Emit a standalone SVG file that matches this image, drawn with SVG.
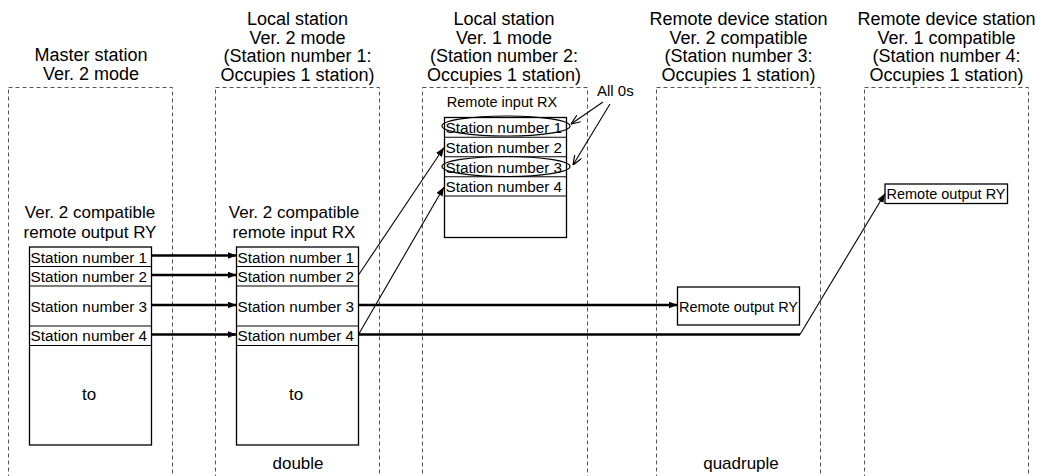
<svg xmlns="http://www.w3.org/2000/svg" width="1042" height="476" viewBox="0 0 1042 476">
<defs>
<style>
text{font-family:"Liberation Sans",Arial,sans-serif;fill:#000}
.h{font-size:18px;text-anchor:middle}
.m{font-size:17px;text-anchor:middle}
.s{font-size:15.3px}
.r{font-size:14.5px}
.col{fill:none;stroke:#555;stroke-width:1;stroke-dasharray:4 3}
.tb{fill:#fff;stroke:#000;stroke-width:1.3}
.rl{stroke:#000;stroke-width:1.1}
.thick{stroke:#000;stroke-width:2.4;fill:none}
.thin{stroke:#000;stroke-width:1.1;fill:none}
.ell{fill:none;stroke:#000;stroke-width:1.2}
</style>
<marker id="ah" viewBox="0 0 9 7" refX="9" refY="3.5" markerWidth="9" markerHeight="7" markerUnits="userSpaceOnUse" orient="auto"><path d="M0,0 L9,3.5 L0,7 z" fill="#000"/></marker>
<marker id="ao" viewBox="0 0 10 8" refX="10" refY="4" markerWidth="10" markerHeight="8" markerUnits="userSpaceOnUse" orient="auto"><path d="M0,0 L10,4 L0,8" fill="none" stroke="#000" stroke-width="1.2"/></marker>
</defs>
<rect width="1042" height="476" fill="#fff"/>

<g id="col-master">
<rect class="col" x="8.5" y="87.5" width="164" height="420"/>
<text class="h" x="91" y="61">Master station</text>
<text class="h" x="91" y="80">Ver. 2 mode</text>
<text class="m" x="90" y="218">Ver. 2 compatible</text>
<text class="m" x="90" y="238">remote output RY</text>
<rect class="tb" x="29.5" y="247" width="122" height="198"/>
<line class="rl" x1="29.5" y1="266.5" x2="151.5" y2="266.5"/>
<line class="rl" x1="29.5" y1="286" x2="151.5" y2="286"/>
<line class="rl" x1="29.5" y1="326" x2="151.5" y2="326"/>
<line class="rl" x1="29.5" y1="345.5" x2="151.5" y2="345.5"/>
<text class="s" x="30.5" y="262.5">Station number 1</text>
<text class="s" x="30.5" y="281.5">Station number 2</text>
<text class="s" x="30.5" y="311.5">Station number 3</text>
<text class="s" x="30.5" y="341">Station number 4</text>
<text class="h" x="89" y="400" style="font-size:17px">to</text>
</g>

<g id="col-local2">
<rect class="col" x="215.5" y="87.5" width="164" height="420"/>
<text class="h" x="297.5" y="25">Local station</text>
<text class="h" x="297.5" y="43.5">Ver. 2 mode</text>
<text class="h" x="297.5" y="62">(Station number 1:</text>
<text class="h" x="297.5" y="80.5">Occupies 1 station)</text>
<text class="m" x="294" y="218">Ver. 2 compatible</text>
<text class="m" x="294" y="238">remote input RX</text>
<rect class="tb" x="236.5" y="247" width="122" height="198"/>
<line class="rl" x1="236.5" y1="266.5" x2="358.5" y2="266.5"/>
<line class="rl" x1="236.5" y1="286" x2="358.5" y2="286"/>
<line class="rl" x1="236.5" y1="326" x2="358.5" y2="326"/>
<line class="rl" x1="236.5" y1="345.5" x2="358.5" y2="345.5"/>
<text class="s" x="237.5" y="262.5">Station number 1</text>
<text class="s" x="237.5" y="281.5">Station number 2</text>
<text class="s" x="237.5" y="311.5">Station number 3</text>
<text class="s" x="237.5" y="341">Station number 4</text>
<text class="h" x="296" y="400" style="font-size:17px">to</text>
<text class="h" x="298" y="469" style="font-size:17px">double</text>
</g>

<g id="col-local1">
<rect class="col" x="422.5" y="87.5" width="165" height="420"/>
<text class="h" x="504" y="25">Local station</text>
<text class="h" x="504" y="43.5">Ver. 1 mode</text>
<text class="h" x="504" y="62">(Station number 2:</text>
<text class="h" x="504" y="80.5">Occupies 1 station)</text>
<text class="r" x="502" y="107" text-anchor="middle">Remote input RX</text>
<rect class="tb" x="444.5" y="117.5" width="122" height="120"/>
<line class="rl" x1="444.5" y1="137.3" x2="566.5" y2="137.3"/>
<line class="rl" x1="444.5" y1="156.7" x2="566.5" y2="156.7"/>
<line class="rl" x1="444.5" y1="176.7" x2="566.5" y2="176.7"/>
<line class="rl" x1="444.5" y1="196" x2="566.5" y2="196"/>
<text class="s" x="445.5" y="133">Station number 1</text>
<text class="s" x="445.5" y="152.5">Station number 2</text>
<text class="s" x="445.5" y="172.5">Station number 3</text>
<text class="s" x="445.5" y="191.5">Station number 4</text>
<ellipse class="ell" cx="506" cy="126" rx="64" ry="10"/>
<ellipse class="ell" cx="506" cy="166.5" rx="64" ry="10"/>
<text x="597" y="96" style="font-size:15px">All 0s</text>
</g>

<g id="col-remote2">
<rect class="col" x="656.5" y="87.5" width="164" height="420"/>
<text class="h" x="738.5" y="25">Remote device station</text>
<text class="h" x="738.5" y="43.5">Ver. 2 compatible</text>
<text class="h" x="738.5" y="62">(Station number 3:</text>
<text class="h" x="738.5" y="80.5">Occupies 1 station)</text>
<rect class="tb" x="677.5" y="287" width="122" height="38"/>
<text class="r" x="679" y="311.5">Remote output RY</text>
<text class="h" x="741" y="469" style="font-size:17px">quadruple</text>
</g>

<g id="col-remote1">
<rect class="col" x="864.5" y="87.5" width="164" height="420"/>
<text class="h" x="946.5" y="25">Remote device station</text>
<text class="h" x="946.5" y="43.5">Ver. 1 compatible</text>
<text class="h" x="946.5" y="62">(Station number 4:</text>
<text class="h" x="946.5" y="80.5">Occupies 1 station)</text>
<rect class="tb" x="885" y="184" width="122.5" height="19.5"/>
<text class="r" x="886.5" y="199">Remote output RY</text>
</g>

<g id="connectors">
<line class="thick" x1="151.5" y1="255.5" x2="236.5" y2="255.5" marker-end="url(#ah)"/>
<line class="thick" x1="151.5" y1="275" x2="236.5" y2="275" marker-end="url(#ah)"/>
<line class="thick" x1="151.5" y1="305" x2="236.5" y2="305" marker-end="url(#ah)"/>
<line class="thick" x1="151.5" y1="334.5" x2="236.5" y2="334.5" marker-end="url(#ah)"/>
<line class="thin" x1="358.5" y1="275" x2="444" y2="147.5" marker-end="url(#ah)"/>
<line class="thin" x1="358.5" y1="334.5" x2="444" y2="187" marker-end="url(#ah)"/>
<line class="thick" x1="358.5" y1="305" x2="677.5" y2="305" marker-end="url(#ah)"/>
<line class="thick" x1="358.5" y1="334.5" x2="800" y2="334.5"/>
<line class="thin" x1="800" y1="334.5" x2="885" y2="193.5" marker-end="url(#ah)"/>
<line class="thin" x1="603" y1="102" x2="571" y2="124" marker-end="url(#ao)"/>
<line class="thin" x1="610" y1="104" x2="573" y2="165" marker-end="url(#ao)"/>
</g>
</svg>
